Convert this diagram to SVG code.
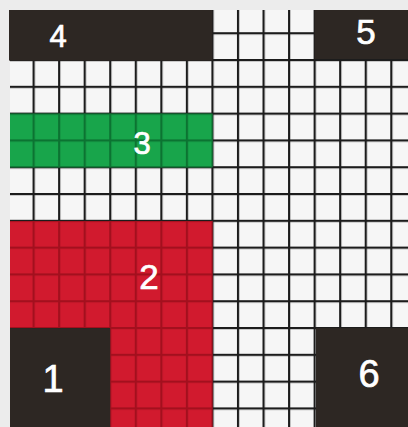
<svg xmlns="http://www.w3.org/2000/svg" width="408" height="427" viewBox="0 0 408 427">
  <style>
    .lbl { font-family: "Liberation Sans", Arial, sans-serif; fill: #ffffff; stroke: #ffffff; stroke-width: 0.7; text-anchor: middle; }
    .s { font-size: 31px; }
    .m { font-size: 35px; }
    .l { font-size: 38px; }
    .dark { fill: #2d2723; }
  </style>
  <defs>
    <pattern id="gridK" patternUnits="userSpaceOnUse" x="7" y="5.4" width="25.55" height="26.8">
      <rect x="0" y="0" width="2.2" height="26.8" fill="#1c1c1c"/>
      <rect x="0" y="0" width="25.55" height="2.2" fill="#1c1c1c"/>
    </pattern>
    <pattern id="gridR" patternUnits="userSpaceOnUse" x="7" y="5.4" width="25.55" height="26.8">
      <rect x="0" y="0" width="2.2" height="26.8" fill="#a3101e"/>
      <rect x="0" y="0" width="25.55" height="2.2" fill="#a3101e"/>
    </pattern>
    <pattern id="gridG" patternUnits="userSpaceOnUse" x="7" y="5.4" width="25.55" height="26.8">
      <rect x="0" y="0" width="2.2" height="26.8" fill="#0c7332"/>
      <rect x="0" y="0" width="25.55" height="2.2" fill="#0c7332"/>
    </pattern>
  </defs>

  <!-- photo background / margin -->
  <rect x="0" y="0" width="408" height="427" fill="#ececec"/>

  <!-- white grid -->
  <g id="grid">
    <rect x="10" y="10" width="398" height="417" fill="#f6f6f6"/>
    <rect x="10" y="10" width="398" height="417" fill="url(#gridK)"/>
  </g>

  <g id="connectors"></g>

  <g id="block3">
    <rect x="10" y="113.7" width="202.4" height="53.6" fill="#18a54b"/>
    <rect x="10" y="113.7" width="202.4" height="53.6" fill="url(#gridG)"/>
    <text class="lbl s" x="142" y="153.5">3</text>
  </g>

  <g id="block2">
    <path d="M10 220.9H212.4V427H110.2V328.1H10Z" fill="#d11a2e"/>
    <path d="M10 220.9H212.4V427H110.2V328.1H10Z" fill="url(#gridR)"/>
    <text class="lbl m" x="149" y="289">2</text>
  </g>

  <g id="block4">
    <rect class="dark" x="9" y="10" width="203.4" height="50.6"/>
    <text class="lbl s" x="58" y="46.5">4</text>
  </g>

  <g id="block5">
    <rect class="dark" x="314.6" y="10" width="93.4" height="49"/>
    <text class="lbl m" x="366" y="43.5">5</text>
  </g>

  <g id="block1">
    <rect class="dark" x="10" y="328.1" width="100.2" height="98.9"/>
    <text class="lbl l" x="53" y="392">1</text>
  </g>

  <g id="block6">
    <rect class="dark" x="316" y="328.1" width="92" height="98.9"/>
    <text class="lbl l" x="369" y="386.5">6</text>
  </g>
</svg>
